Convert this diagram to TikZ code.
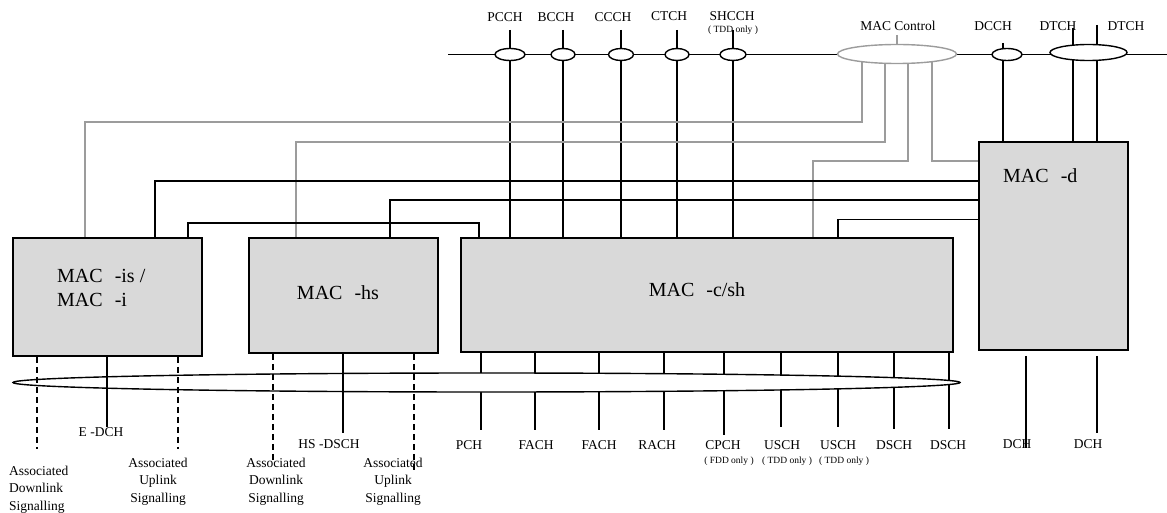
\documentclass[tikz,border=0pt]{standalone}
\usepackage{fontspec}
\setmainfont{Liberation Serif}
\usetikzlibrary{shapes.geometric,backgrounds,calc}
\definecolor{boxgray}{HTML}{D9D9D9}
\definecolor{ctlgray}{HTML}{9C9C9C}
\begin{document}
\begin{tikzpicture}[x=1pt,y=-1pt,
  blk/.style={draw=black,line width=1.8pt,fill=boxgray,inner sep=0pt},
  ln/.style={line width=1.4pt,black},
  dln/.style={ln,dash pattern=on 6pt off 4pt},
  ctl/.style={line width=1.4pt,ctlgray},
  chov/.style={ellipse,draw=black,line width=1.4pt,fill=white,inner sep=0pt},
  lbl/.style={font=\fontsize{13.5}{16}\selectfont,inner sep=0pt,anchor=base},
  note/.style={font=\fontsize{9.5}{11}\selectfont,inner sep=0pt,anchor=base},
  big/.style={font=\fontsize{20}{24}\selectfont,inner sep=0pt},
  sig/.style={font=\fontsize{13.5}{17.5}\selectfont,inner sep=0pt,align=center,anchor=north},
]
\useasboundingbox (0,0) rectangle (1167,513);

% ---------- boxes ----------
\node[blk,minimum width=189pt,minimum height=118pt] (mis) at (107.5,297) {};
\node[blk,minimum width=189pt,minimum height=115pt] (mhs) at (343.5,295.5) {};
\node[blk,minimum width=492pt,minimum height=114pt] (mcsh) at (707,295) {};
\node[blk,minimum width=149pt,minimum height=208pt] (md) at (1053.5,246) {};
\node[big,align=left,anchor=north west] (tis) at (57,269.5) {MAC\hspace{0.6em}-is /\\MAC\hspace{0.6em}-i};
\node[big,anchor=base] (ths) at (338,299) {MAC\hspace{0.6em}-hs};
\node[big,anchor=base] (tcsh) at (697,296.5) {MAC\hspace{0.6em}-c/sh};
\node[big,anchor=base west] (td) at (1003,183) {MAC\hspace{0.6em}-d};

% ---------- top logical channel bus ----------
\coordinate (busL) at (448,54.5);
\coordinate (busR) at (1167,54.5);
\node[chov,minimum width=30pt,minimum height=12pt] (pcch) at (510,54.5) {};
\node[chov,minimum width=24pt,minimum height=12pt] (bcch) at (563,54.5) {};
\node[chov,minimum width=25pt,minimum height=12pt] (ccch) at (621,54.5) {};
\node[chov,minimum width=24pt,minimum height=12pt] (ctch) at (677,54.5) {};
\node[chov,minimum width=26pt,minimum height=12pt] (shcch) at (733,54.5) {};
\node[chov,draw=ctlgray,minimum width=119pt,minimum height=19pt] (mc) at (897,54) {};
\node[chov,minimum width=30pt,minimum height=12pt] (dcch) at (1007,54.5) {};
\node[chov,minimum width=77pt,minimum height=16pt] (dtch) at (1088.5,52.5) {};

\node[lbl] (lpcch) at (505,21.5) {PCCH};
\node[lbl] (lbcch) at (556,21.5) {BCCH};
\node[lbl] (lccch) at (613,21.5) {CCCH};
\node[lbl] (lctch) at (669,21) {CTCH};
\node[lbl] (lshcch) at (732,21) {SHCCH};
\node[note] (nshcch) at (733,33) {( TDD only )};
\node[lbl] (lmc) at (898,30.5) {MAC Control};
\node[lbl] (ldcch) at (993,30.5) {DCCH};
\node[lbl] (ldtch1) at (1058,30.5) {DTCH};
\node[lbl] (ldtch2) at (1126,30.5) {DTCH};

% ---------- bottom transport channel bus ----------
\node[ellipse,draw=black,line width=1.4pt,fill=white,inner sep=0pt,
      minimum width=947pt,minimum height=19pt] (bus) at (486.5,382.5) {};

\begin{scope}[on background layer]
  \draw[ln] (busL) -- (busR);
  % channels to MAC-c/sh
  \coordinate (tp1) at (510,30);
  \coordinate (tp2) at (563,30);
  \coordinate (tp3) at (621,30);
  \coordinate (tp4) at (677,30);
  \coordinate (tp5) at (733,30);
  \foreach \c in {tp1,tp2,tp3,tp4,tp5}
    \draw[ln] (\c) -- (mcsh.north -| \c);
  % dedicated channels to MAC-d
  \coordinate (dc1) at (1003,43);
  \coordinate (dt1) at (1073,28);
  \coordinate (dt2) at (1097,25);
  \foreach \c in {dc1,dt1,dt2}
    \draw[ln] (\c) -- (md.north -| \c);
  % MAC Control (grey)
  \coordinate (mcT) at (897,35);
  \draw[ctl] (mcT) -- (mc.north);
  \coordinate (g1) at (862,122);  \coordinate (g1b) at (85,122);
  \coordinate (g2) at (885,142);  \coordinate (g2b) at (296,142);
  \coordinate (g3) at (908,161);  \coordinate (g3b) at (813,161);
  \coordinate (g4) at (932,161);
  \draw[ctl] (mc.center -| g1) -- (g1) -- (g1b) -- (mis.north -| g1b);
  \draw[ctl] (mc.center -| g2) -- (g2) -- (g2b) -- (mhs.north -| g2b);
  \draw[ctl] (mc.center -| g3) -- (g3) -- (g3b) -- (mcsh.north -| g3b);
  \draw[ctl] (mc.center -| g4) -- (g4) -- (md.west |- g4);
  % MAC-d interconnections
  \coordinate (k1) at (155,181);
  \coordinate (k2) at (390,200);
  \coordinate (k3) at (838,219.5);
  \draw[ln] (md.west |- k1) -- (k1) -- (mis.north -| k1);
  \draw[ln] (md.west |- k2) -- (k2) -- (mhs.north -| k2);
  \draw[ln] (md.west |- k3) -- (k3) -- (mcsh.north -| k3);
  \coordinate (k4a) at (188,223);  \coordinate (k4b) at (479,223);
  \draw[ln] (mis.north -| k4a) -- (k4a) -- (k4b) -- (mcsh.north -| k4b);
  % MAC-c/sh transport channels
  \foreach \x/\e in {481/430,535/430,599/430,664/430,724/435,781/427,838/427,894/429,949/429}{
    \coordinate (e\x) at (\x,\e);
    \draw[ln] (mcsh.south -| e\x) -- (e\x);
  }
\end{scope}

% ---------- MAC-is / MAC-hs / MAC-d downward lines ----------
\coordinate (a1) at (37,449);
\coordinate (a2) at (107,427);
\coordinate (a3) at (178,449);
\draw[dln] (mis.south -| a1) -- (a1);
\draw[ln]  (mis.south -| a2) -- (a2);
\draw[dln] (mis.south -| a3) -- (a3);
\coordinate (h1) at (273,460);
\coordinate (h2) at (343,433);
\coordinate (h3) at (414,470);
\draw[dln] (mhs.south -| h1) -- (h1);
\draw[ln]  (mhs.south -| h2) -- (h2);
\draw[dln] (mhs.south -| h3) -- (h3);
\coordinate (d1) at (1026,448);
\coordinate (d2) at (1097,433);
\draw[ln] ($(md.south -| d1)+(0,5)$) -- (d1);
\draw[ln] ($(md.south -| d2)+(0,5)$) -- (d2);

% ---------- bottom labels ----------
\node[lbl] (ledch) at (101,436) {E -DCH};
\node[lbl] (lhsdsch) at (329,448) {HS -DSCH};
\node[sig,align=left,anchor=north west] (s1) at (9,465.7) {Associated\\Downlink\\Signalling};
\node[sig] (s2) at (158,457.7) {Associated\\Uplink\\Signalling};
\node[sig] (s3) at (276,457.7) {Associated\\Downlink\\Signalling};
\node[sig] (s4) at (393,457.7) {Associated\\Uplink\\Signalling};

\node[lbl] (lpch) at (469,449) {PCH};
\node[lbl] (lfach1) at (536,449) {FACH};
\node[lbl] (lfach2) at (599,449) {FACH};
\node[lbl] (lrach) at (657,449) {RACH};
\node[lbl] (lcpch) at (723,449) {CPCH};
\node[lbl] (lusch1) at (782,449) {USCH};
\node[lbl] (lusch2) at (838,449) {USCH};
\node[lbl] (ldsch1) at (894,449) {DSCH};
\node[lbl] (ldsch2) at (948,449) {DSCH};
\node[note] (ncpch) at (729,463) {( FDD only )};
\node[note] (nusch1) at (787,463) {( TDD only )};
\node[note] (nusch2) at (844,463) {( TDD only )};
\node[lbl] (ldch1) at (1017,448) {DCH};
\node[lbl] (ldch2) at (1088,448) {DCH};
\end{tikzpicture}
\end{document}
